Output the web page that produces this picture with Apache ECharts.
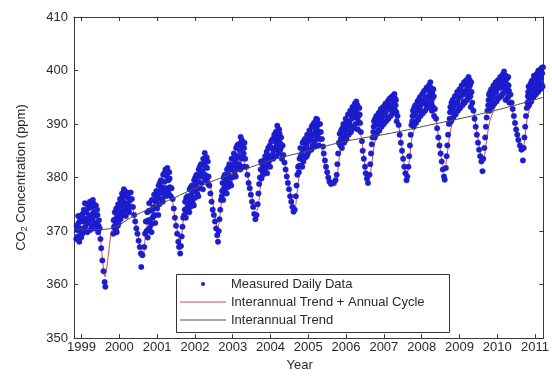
<!DOCTYPE html>
<html>
<head>
<meta charset="utf-8">
<script src="https://cdn.jsdelivr.net/npm/echarts@6/dist/echarts.min.js"></script>
<style>
  html, body { margin: 0; padding: 0; background: #fff; }
  #chart { width: 552px; height: 377px; }
</style>
</head>
<body>
<div id="chart"></div>
<script>
// Tick positions
const yearTicks = [1999, 2000, 2001, 2002, 2003, 2004, 2005, 2006, 2007, 2008, 2009, 2010, 2011];
const ppmTicks = [350, 360, 370, 380, 390, 400, 410];

// Measured daily CO2 [decimal year, ppm], grouped by seasonal cycle
const daily1999 = [[1998.86,368.5],[1998.87,371.0],[1998.88,370.2],[1998.9,369.0],[1998.91,372.8],[1998.92,371.5],[1998.94,368.0],[1998.95,370.0],[1998.96,372.0],[1998.98,370.5],[1998.99,368.8],[1999.0,373.0],[1999.02,369.5],[1999.03,373.2],[1999.04,371.8],[1999.05,370.2],[1999.06,374.0],[1999.08,372.3],[1999.09,375.2],[1999.1,370.8],[1999.11,371.8],[1999.12,373.5],[1999.14,375.0],[1999.15,369.8],[1999.16,371.5],[1999.18,374.2],[1999.19,372.0],[1999.2,372.8],[1999.22,375.5],[1999.23,370.2],[1999.24,373.0],[1999.25,374.8],[1999.26,371.0],[1999.28,374.5],[1999.29,372.0],[1999.3,375.8],[1999.32,373.5],[1999.33,375.0],[1999.34,370.5],[1999.36,372.8],[1999.37,371.5],[1999.38,374.8],[1999.4,371.2],[1999.41,374.0],[1999.42,373.0],[1999.44,369.8],[1999.45,371.0],[1999.46,372.0],[1999.48,370.5],[1999.5,368.5],[1999.52,366.8],[1999.55,364.5],[1999.58,362.5],[1999.61,360.5],[1999.63,359.6]];
const daily2000 = [[1999.84,369.5],[1999.85,372.0],[1999.86,370.8],[1999.87,370.6],[1999.88,373.5],[1999.89,372.2],[1999.9,371.2],[1999.91,370.2],[1999.92,374.2],[1999.93,369.8],[1999.94,373.2],[1999.95,372.8],[1999.96,371.0],[1999.97,375.0],[1999.98,371.5],[1999.99,374.8],[2000.0,373.8],[2000.01,372.5],[2000.02,376.0],[2000.03,372.2],[2000.04,375.8],[2000.05,374.8],[2000.06,373.2],[2000.07,377.0],[2000.08,373.0],[2000.09,376.5],[2000.1,375.5],[2000.11,374.0],[2000.12,377.8],[2000.13,374.2],[2000.14,377.5],[2000.15,376.4],[2000.16,375.2],[2000.17,372.8],[2000.18,375.0],[2000.19,373.8],[2000.2,377.2],[2000.21,376.8],[2000.22,374.0],[2000.23,375.0],[2000.24,376.2],[2000.26,373.5],[2000.27,374.5],[2000.28,375.8],[2000.3,377.2],[2000.33,376.0],[2000.36,374.5],[2000.39,373.0],[2000.42,371.8],[2000.45,370.5],[2000.48,369.5],[2000.51,368.2],[2000.54,367.0],[2000.57,365.8],[2000.58,363.3],[2000.61,365.5]];
const daily2001 = [[2000.66,367.0],[2000.68,369.5],[2000.7,371.8],[2000.72,370.0],[2000.73,371.8],[2000.74,373.5],[2000.75,368.8],[2000.76,370.2],[2000.77,372.0],[2000.78,373.8],[2000.79,375.2],[2000.8,370.5],[2000.81,372.0],[2000.82,373.8],[2000.84,371.2],[2000.85,369.8],[2000.86,375.8],[2000.87,374.0],[2000.88,372.5],[2000.9,374.5],[2000.91,372.8],[2000.92,376.8],[2000.94,373.0],[2000.95,371.5],[2000.96,375.5],[2000.98,377.5],[2000.99,376.0],[2001.0,374.2],[2001.02,376.5],[2001.03,373.0],[2001.04,378.5],[2001.06,375.0],[2001.07,379.0],[2001.08,377.2],[2001.1,379.5],[2001.11,377.8],[2001.12,376.0],[2001.14,378.2],[2001.15,375.5],[2001.16,380.5],[2001.18,377.0],[2001.19,380.8],[2001.2,379.2],[2001.22,381.5],[2001.23,376.5],[2001.24,378.0],[2001.26,380.2],[2001.27,381.8],[2001.28,377.5],[2001.3,379.5],[2001.31,376.8],[2001.32,381.0],[2001.33,379.8],[2001.34,378.2],[2001.36,376.5],[2001.38,378.0],[2001.41,376.0],[2001.44,374.2],[2001.47,372.5],[2001.5,371.0],[2001.53,369.5],[2001.56,368.0],[2001.58,367.0],[2001.61,365.8]];
const daily2002 = [[2001.63,367.2],[2001.65,369.0],[2001.67,370.8],[2001.69,372.5],[2001.72,373.0],[2001.73,374.0],[2001.74,375.5],[2001.76,372.5],[2001.77,376.2],[2001.78,374.2],[2001.8,376.5],[2001.81,375.0],[2001.82,373.8],[2001.84,375.8],[2001.85,373.5],[2001.86,377.8],[2001.88,374.5],[2001.89,378.2],[2001.9,376.8],[2001.92,378.5],[2001.93,376.0],[2001.94,375.2],[2001.96,377.5],[2001.97,374.8],[2001.98,379.5],[2002.0,376.2],[2002.01,380.0],[2002.02,378.5],[2002.04,380.5],[2002.05,378.0],[2002.06,377.0],[2002.08,379.2],[2002.09,376.5],[2002.1,381.5],[2002.12,378.0],[2002.13,382.0],[2002.14,380.2],[2002.16,382.5],[2002.17,380.8],[2002.18,379.0],[2002.2,381.2],[2002.21,377.8],[2002.22,383.5],[2002.24,380.0],[2002.25,382.8],[2002.26,384.6],[2002.27,380.5],[2002.28,382.0],[2002.3,379.5],[2002.31,383.8],[2002.32,381.8],[2002.34,383.0],[2002.35,378.8],[2002.36,380.2],[2002.38,378.5],[2002.41,377.0],[2002.44,375.5],[2002.47,374.0],[2002.5,373.0],[2002.53,371.8],[2002.56,370.5],[2002.59,369.2],[2002.61,368.0]];
const daily2003 = [[2002.63,370.0],[2002.65,372.2],[2002.67,374.0],[2002.69,375.8],[2002.71,376.5],[2002.72,377.5],[2002.73,379.0],[2002.75,375.8],[2002.76,380.0],[2002.77,378.0],[2002.79,380.5],[2002.8,378.8],[2002.81,377.2],[2002.83,379.5],[2002.84,377.0],[2002.85,381.5],[2002.87,378.2],[2002.88,381.8],[2002.89,380.5],[2002.91,382.5],[2002.92,380.0],[2002.93,379.0],[2002.95,381.5],[2002.96,378.5],[2002.97,383.5],[2002.99,380.0],[2003.0,383.5],[2003.01,382.2],[2003.03,384.5],[2003.04,382.5],[2003.05,381.0],[2003.07,383.2],[2003.08,380.2],[2003.09,385.5],[2003.11,381.8],[2003.12,386.0],[2003.13,384.0],[2003.15,386.2],[2003.16,384.0],[2003.17,382.5],[2003.19,385.0],[2003.2,381.5],[2003.21,387.6],[2003.22,386.5],[2003.23,383.5],[2003.24,387.0],[2003.25,385.8],[2003.26,383.8],[2003.27,382.0],[2003.29,384.5],[2003.3,385.5],[2003.31,386.5],[2003.33,383.5],[2003.36,382.0],[2003.39,380.5],[2003.42,379.0],[2003.45,378.0],[2003.48,376.8],[2003.51,375.5],[2003.54,374.5],[2003.57,373.2],[2003.6,372.2],[2003.63,373.0]];
const daily2004 = [[2003.66,375.0],[2003.68,377.0],[2003.7,378.8],[2003.72,380.0],[2003.74,381.5],[2003.75,383.0],[2003.76,379.8],[2003.78,382.5],[2003.79,381.2],[2003.8,380.5],[2003.82,383.2],[2003.83,382.0],[2003.84,381.0],[2003.86,384.0],[2003.87,383.2],[2003.88,381.8],[2003.9,384.8],[2003.91,380.8],[2003.92,382.5],[2003.94,385.5],[2003.95,384.0],[2003.96,383.0],[2003.98,386.0],[2003.99,382.0],[2004.0,383.8],[2004.02,386.8],[2004.03,385.5],[2004.04,384.2],[2004.06,387.2],[2004.07,383.5],[2004.08,385.0],[2004.1,388.0],[2004.11,386.8],[2004.12,385.5],[2004.14,388.5],[2004.15,384.0],[2004.16,386.0],[2004.17,387.5],[2004.18,389.7],[2004.19,388.8],[2004.2,386.8],[2004.21,385.0],[2004.22,384.5],[2004.23,389.0],[2004.24,388.2],[2004.25,386.5],[2004.26,385.2],[2004.28,387.5],[2004.29,385.8],[2004.3,383.5],[2004.32,386.0],[2004.34,384.2],[2004.37,382.8],[2004.4,381.5],[2004.43,380.2],[2004.46,379.0],[2004.49,377.8],[2004.52,376.5],[2004.55,375.5],[2004.58,374.5],[2004.61,373.6],[2004.64,374.0]];
const daily2005 = [[2004.67,376.5],[2004.69,378.5],[2004.71,380.5],[2004.73,382.0],[2004.75,381.0],[2004.76,382.2],[2004.77,383.5],[2004.79,385.5],[2004.8,384.0],[2004.81,382.2],[2004.83,384.5],[2004.84,382.0],[2004.85,386.5],[2004.87,383.0],[2004.88,386.8],[2004.89,385.2],[2004.91,387.2],[2004.92,385.5],[2004.93,383.8],[2004.95,386.0],[2004.96,384.0],[2004.97,388.0],[2004.99,384.5],[2005.0,388.0],[2005.01,386.8],[2005.03,388.8],[2005.04,387.0],[2005.05,385.2],[2005.07,387.5],[2005.08,385.2],[2005.09,389.5],[2005.11,386.0],[2005.12,389.8],[2005.13,388.2],[2005.15,390.2],[2005.16,388.0],[2005.17,386.8],[2005.18,385.8],[2005.19,389.0],[2005.2,390.5],[2005.21,391.0],[2005.22,389.2],[2005.23,387.5],[2005.24,390.8],[2005.25,389.8],[2005.26,388.2],[2005.27,386.0],[2005.29,388.5],[2005.3,387.2],[2005.31,390.0],[2005.33,388.5],[2005.36,387.2],[2005.39,385.8],[2005.41,384.5],[2005.44,383.2],[2005.47,382.0],[2005.5,381.0],[2005.53,380.0],[2005.56,379.2],[2005.6,378.8],[2005.66,379.0],[2005.72,379.5]];
const daily2006 = [[2005.75,380.5],[2005.77,382.5],[2005.79,384.5],[2005.81,386.5],[2005.83,388.2],[2005.85,386.0],[2005.86,387.2],[2005.87,388.8],[2005.89,385.5],[2005.9,389.2],[2005.91,387.8],[2005.93,390.0],[2005.94,388.0],[2005.95,386.5],[2005.97,388.8],[2005.98,387.0],[2005.99,391.0],[2006.01,387.2],[2006.02,390.5],[2006.03,389.5],[2006.05,391.8],[2006.06,389.5],[2006.07,388.0],[2006.09,390.2],[2006.1,388.5],[2006.11,392.5],[2006.13,388.5],[2006.14,392.0],[2006.15,391.0],[2006.17,393.2],[2006.18,391.2],[2006.19,389.5],[2006.2,392.8],[2006.21,391.8],[2006.22,389.2],[2006.23,393.8],[2006.24,392.5],[2006.25,390.0],[2006.26,393.5],[2006.27,394.2],[2006.28,391.2],[2006.29,392.0],[2006.3,393.5],[2006.31,389.0],[2006.32,390.5],[2006.33,391.5],[2006.35,393.0],[2006.36,391.8],[2006.37,390.2],[2006.39,388.5],[2006.42,386.8],[2006.44,385.0],[2006.47,383.5],[2006.5,382.0],[2006.52,380.8],[2006.55,379.8],[2006.58,379.0]];
const daily2007 = [[2006.62,380.5],[2006.64,382.5],[2006.66,384.5],[2006.68,386.2],[2006.7,387.5],[2006.72,388.5],[2006.73,389.5],[2006.74,390.5],[2006.76,387.5],[2006.77,391.0],[2006.78,389.8],[2006.8,391.5],[2006.81,389.8],[2006.82,388.2],[2006.84,390.2],[2006.85,388.8],[2006.86,392.0],[2006.88,388.8],[2006.89,392.2],[2006.9,391.0],[2006.92,392.8],[2006.93,390.8],[2006.94,389.5],[2006.96,391.5],[2006.97,390.0],[2006.98,393.2],[2007.0,390.0],[2007.01,393.2],[2007.02,392.2],[2007.04,393.8],[2007.05,392.2],[2007.06,390.5],[2007.08,392.8],[2007.09,391.2],[2007.1,394.2],[2007.12,391.0],[2007.13,394.5],[2007.14,393.2],[2007.16,394.8],[2007.17,393.2],[2007.18,391.5],[2007.2,393.5],[2007.21,392.5],[2007.22,395.2],[2007.23,394.5],[2007.24,392.0],[2007.25,395.0],[2007.26,394.2],[2007.27,393.0],[2007.28,395.6],[2007.29,394.8],[2007.3,392.5],[2007.31,393.5],[2007.32,394.5],[2007.33,392.2],[2007.34,390.5],[2007.36,391.5],[2007.39,389.8],[2007.42,388.0],[2007.45,386.5],[2007.48,385.0],[2007.51,383.5],[2007.54,382.0],[2007.57,380.8],[2007.6,379.5],[2007.62,380.2]];
const daily2008 = [[2007.65,382.0],[2007.67,384.0],[2007.69,386.0],[2007.71,388.0],[2007.73,389.8],[2007.75,390.5],[2007.76,391.5],[2007.77,392.5],[2007.79,389.5],[2007.8,393.0],[2007.81,391.8],[2007.83,393.5],[2007.84,391.8],[2007.85,390.2],[2007.87,392.5],[2007.88,390.8],[2007.89,394.2],[2007.91,390.8],[2007.92,394.5],[2007.93,393.0],[2007.95,395.0],[2007.96,393.2],[2007.97,391.5],[2007.99,393.8],[2008.0,392.2],[2008.01,395.5],[2008.03,392.0],[2008.04,395.8],[2008.05,394.2],[2008.07,396.2],[2008.08,394.5],[2008.09,392.5],[2008.11,394.8],[2008.12,393.5],[2008.13,396.8],[2008.15,393.0],[2008.16,396.8],[2008.17,395.2],[2008.18,394.0],[2008.19,397.2],[2008.2,396.2],[2008.21,393.5],[2008.22,395.0],[2008.23,397.8],[2008.24,396.8],[2008.25,395.5],[2008.26,394.0],[2008.27,392.5],[2008.28,396.0],[2008.29,394.8],[2008.3,393.2],[2008.31,396.5],[2008.32,395.2],[2008.33,391.5],[2008.35,392.8],[2008.38,391.0],[2008.41,389.2],[2008.44,387.5],[2008.47,386.0],[2008.5,384.5],[2008.53,383.0],[2008.56,381.5],[2008.59,380.2],[2008.61,379.6]];
const daily2009 = [[2008.64,381.8],[2008.66,384.0],[2008.68,386.0],[2008.7,388.0],[2008.72,390.0],[2008.74,391.0],[2008.75,392.2],[2008.76,393.2],[2008.78,390.5],[2008.79,394.0],[2008.8,392.5],[2008.82,394.5],[2008.83,392.8],[2008.84,391.2],[2008.86,393.5],[2008.87,391.8],[2008.88,395.2],[2008.9,391.8],[2008.91,395.2],[2008.92,394.0],[2008.94,396.0],[2008.95,394.0],[2008.96,392.5],[2008.98,394.8],[2008.99,393.0],[2009.0,396.5],[2009.02,393.0],[2009.03,396.5],[2009.04,395.2],[2009.06,397.2],[2009.07,395.5],[2009.08,393.5],[2009.1,395.8],[2009.11,394.2],[2009.12,397.8],[2009.14,394.0],[2009.15,397.5],[2009.16,396.2],[2009.17,395.5],[2009.18,398.2],[2009.19,397.2],[2009.2,394.5],[2009.21,396.0],[2009.22,396.8],[2009.23,397.8],[2009.24,398.8],[2009.25,396.5],[2009.26,395.0],[2009.27,398.2],[2009.28,397.2],[2009.29,395.2],[2009.3,393.2],[2009.31,397.8],[2009.32,396.0],[2009.34,394.0],[2009.37,392.5],[2009.4,391.0],[2009.43,389.5],[2009.46,388.0],[2009.49,386.5],[2009.52,385.2],[2009.55,384.0],[2009.58,383.0],[2009.61,381.2],[2009.63,383.5]];
const daily2010 = [[2009.66,385.5],[2009.68,387.5],[2009.7,389.5],[2009.72,391.2],[2009.74,392.5],[2009.76,393.5],[2009.77,394.5],[2009.78,395.5],[2009.8,392.5],[2009.81,396.0],[2009.82,394.5],[2009.84,396.5],[2009.85,394.8],[2009.86,393.2],[2009.88,395.2],[2009.89,393.8],[2009.9,397.2],[2009.92,393.8],[2009.93,397.0],[2009.94,396.0],[2009.96,397.8],[2009.97,395.8],[2009.98,394.2],[2010.0,396.5],[2010.01,394.8],[2010.02,398.2],[2010.04,394.8],[2010.05,398.0],[2010.06,397.0],[2010.08,398.8],[2010.09,396.8],[2010.1,395.2],[2010.12,397.5],[2010.13,395.5],[2010.14,399.2],[2010.15,398.5],[2010.16,395.8],[2010.17,397.2],[2010.18,399.8],[2010.19,398.8],[2010.2,397.8],[2010.21,396.2],[2010.22,394.5],[2010.23,399.0],[2010.24,396.8],[2010.25,397.5],[2010.26,398.5],[2010.27,396.0],[2010.28,395.0],[2010.29,398.8],[2010.3,397.2],[2010.31,396.2],[2010.32,394.0],[2010.35,395.5],[2010.38,394.0],[2010.41,392.8],[2010.44,391.5],[2010.47,390.2],[2010.5,389.0],[2010.53,388.0],[2010.56,387.0],[2010.6,386.0],[2010.64,385.2],[2010.68,383.2],[2010.7,385.5]];
const daily2011 = [[2010.72,387.5],[2010.74,389.5],[2010.76,391.5],[2010.78,393.0],[2010.8,394.0],[2010.81,395.2],[2010.82,396.0],[2010.83,397.0],[2010.84,393.5],[2010.85,394.5],[2010.86,395.5],[2010.87,396.5],[2010.88,397.5],[2010.89,395.2],[2010.9,394.2],[2010.91,398.0],[2010.92,396.5],[2010.93,395.0],[2010.94,398.2],[2010.95,397.0],[2010.96,395.0],[2010.97,399.0],[2010.98,397.2],[2010.99,396.0],[2011.0,398.8],[2011.01,397.8],[2011.02,395.5],[2011.03,399.2],[2011.04,397.8],[2011.05,396.5],[2011.06,399.5],[2011.07,398.5],[2011.08,396.0],[2011.09,400.0],[2011.1,398.2],[2011.11,397.0],[2011.12,399.8],[2011.13,399.0],[2011.14,396.5],[2011.15,400.2],[2011.16,398.5],[2011.17,397.5],[2011.18,400.5],[2011.19,399.5],[2011.2,397.0],[2011.21,400.6]];

// Fitted curve: interannual trend plus annual cycle [decimal year, ppm]
const cycleCurve = [[1998.86,370.5],[1999.0,371.5],[1999.2,373.0],[1999.4,372.5],[1999.48,370.0],[1999.55,365.0],[1999.62,361.5],[1999.7,365.0],[1999.78,369.5],[1999.85,371.0],[2000.0,373.0],[2000.2,375.5],[2000.3,375.5],[2000.4,372.5],[2000.5,369.0],[2000.6,365.5],[2000.63,365.0],[2000.68,368.5],[2000.75,371.5],[2000.9,373.5],[2001.1,376.5],[2001.25,378.5],[2001.36,377.5],[2001.45,373.5],[2001.55,369.5],[2001.6,368.0],[2001.65,369.5],[2001.72,373.0],[2001.9,376.0],[2002.1,379.0],[2002.25,381.0],[2002.37,380.0],[2002.45,376.5],[2002.55,372.0],[2002.6,370.5],[2002.65,372.0],[2002.72,376.0],[2002.9,379.0],[2003.1,382.5],[2003.22,384.0],[2003.32,382.5],[2003.45,378.5],[2003.58,374.5],[2003.64,373.8],[2003.7,376.0],[2003.76,379.5],[2003.9,381.5],[2004.1,384.5],[2004.2,386.0],[2004.32,384.5],[2004.45,380.0],[2004.58,375.5],[2004.65,374.5],[2004.7,377.0],[2004.78,381.0],[2004.95,384.0],[2005.1,386.0],[2005.22,387.5],[2005.32,386.5],[2005.42,383.0],[2005.52,379.5],[2005.58,378.5],[2005.72,378.5],[2005.78,381.0],[2005.85,385.0],[2006.0,387.5],[2006.15,389.5],[2006.27,390.5],[2006.38,388.5],[2006.47,384.0],[2006.55,380.0],[2006.6,379.5],[2006.67,382.0],[2006.76,386.5],[2006.95,389.5],[2007.15,391.5],[2007.27,392.5],[2007.37,390.5],[2007.47,386.0],[2007.56,381.5],[2007.61,380.5],[2007.67,383.0],[2007.76,388.0],[2007.95,391.0],[2008.12,393.0],[2008.25,394.0],[2008.35,392.0],[2008.45,387.5],[2008.55,382.5],[2008.61,381.5],[2008.67,384.0],[2008.77,389.0],[2008.95,392.5],[2009.12,394.5],[2009.25,395.5],[2009.35,393.5],[2009.45,389.0],[2009.56,384.5],[2009.63,383.5],[2009.7,386.0],[2009.8,390.5],[2009.97,393.5],[2010.12,395.5],[2010.25,396.5],[2010.35,394.5],[2010.47,390.0],[2010.6,386.5],[2010.68,385.5],[2010.74,388.0],[2010.82,392.0],[2010.97,394.5],[2011.1,396.5],[2011.2,397.0]];

// Interannual trend [decimal year, ppm]
const trendCurve = [[1998.8,370.4],[1999.5,370.3],[1999.9,370.8],[2000.3,372.5],[2000.9,374.5],[2001.45,376.2],[2002.0,378.0],[2002.9,380.5],[2003.5,382.0],[2004.0,383.2],[2005.0,385.0],[2006.0,386.8],[2007.2,388.3],[2008.2,389.8],[2009.2,391.3],[2010.2,393.0],[2011.22,395.0]];

const dailyAll = [].concat(daily1999, daily2000, daily2001, daily2002, daily2003, daily2004,
  daily2005, daily2006, daily2007, daily2008, daily2009, daily2010, daily2011);

const FONT = 'Liberation Sans, Arial, Helvetica, sans-serif';
const AXIS_COLOR = '#3a3a3a';
const TEXT_COLOR = '#2a2a2a';
const DOT_COLOR = '#1c1cdc';
const DOT_EDGE = '#1c1c96';
const CYCLE_COLOR = '#cc4a4a';
const TREND_COLOR = '#4e4e48';
// thin horizontal bar used as the legend sample for the two curves
const LINE_ICON = 'path://M0,0L46,0L46,1L0,1Z';

const xBase = {
  type: 'value', min: 1998.8, max: 2011.22,
  splitLine: { show: false },
  axisLine: { show: true, onZero: false, lineStyle: { color: AXIS_COLOR, width: 1 } },
  axisTick: { show: true, inside: true, length: 4, customValues: yearTicks, lineStyle: { color: AXIS_COLOR } }
};
const yBase = {
  type: 'value', min: ppmTicks[0], max: ppmTicks[ppmTicks.length - 1], interval: 10,
  splitLine: { show: false },
  axisLine: { show: true, onZero: false, lineStyle: { color: AXIS_COLOR, width: 1 } },
  axisTick: { show: true, inside: true, length: 4, lineStyle: { color: AXIS_COLOR } }
};

const chart = echarts.init(document.getElementById('chart'), null, { renderer: 'canvas' });
chart.setOption({
  animation: false,
  backgroundColor: '#fff',
  textStyle: { fontFamily: FONT },
  grid: { left: 74, right: 2, top: 17, bottom: 33, containLabel: false },
  xAxis: [
    Object.assign({}, xBase, {
      position: 'bottom',
      name: 'Year', nameLocation: 'middle', nameGap: 17,
      nameTextStyle: { fontSize: 13, color: TEXT_COLOR, fontFamily: FONT, padding: [0, 18, 0, 0] },
      axisLabel: { show: true, margin: 3, fontSize: 13, color: TEXT_COLOR, fontFamily: FONT,
        customValues: yearTicks, formatter: v => String(Math.round(v)) }
    }),
    Object.assign({}, xBase, { position: 'top', axisLabel: { show: false } })
  ],
  yAxis: [
    Object.assign({}, yBase, {
      position: 'left',
      name: 'CO{sub|2} Concentration (ppm)', nameLocation: 'middle', nameGap: 45,
      nameTextStyle: { fontSize: 13, color: TEXT_COLOR, fontFamily: FONT,
        rich: { sub: { fontSize: 9, color: TEXT_COLOR, fontFamily: FONT, verticalAlign: 'bottom', padding: [6, 0, 0, 0] } } },
      axisLabel: { show: true, margin: 6, fontSize: 13, color: TEXT_COLOR, fontFamily: FONT,
        formatter: v => String(v) }
    }),
    Object.assign({}, yBase, { position: 'right', axisLabel: { show: false } })
  ],
  legend: {
    orient: 'vertical', left: 180, top: 277, padding: 0,
    itemWidth: 46, itemHeight: 4, itemGap: 4,
    textStyle: { fontSize: 13, color: TEXT_COLOR, fontFamily: FONT, lineHeight: 14 },
    z: 20,
    data: [
      { name: 'Measured Daily Data', icon: 'circle', itemStyle: { borderWidth: 0, color: '#2020a8' } },
      { name: 'Interannual Trend + Annual Cycle', icon: LINE_ICON },
      { name: 'Interannual Trend', icon: LINE_ICON }
    ]
  },
  graphic: [{
    type: 'rect', z: 10,
    shape: { x: 176.5, y: 274.5, width: 273, height: 58 },
    style: { fill: '#fff', stroke: '#333', lineWidth: 1 }
  }],
  series: [
    {
      name: 'Interannual Trend + Annual Cycle', type: 'line', data: cycleCurve,
      xAxisIndex: 0, yAxisIndex: 0,
      symbol: 'none', smooth: 0.3,
      lineStyle: { color: CYCLE_COLOR, width: 1 },
      itemStyle: { color: CYCLE_COLOR },
      z: 2
    },
    {
      name: 'Measured Daily Data', type: 'scatter', data: dailyAll,
      xAxisIndex: 0, yAxisIndex: 0,
      symbol: 'circle', symbolSize: 5.5,
      itemStyle: { color: DOT_COLOR, opacity: 1, borderColor: DOT_EDGE, borderWidth: 0.4 },
      z: 3
    },
    {
      name: 'Interannual Trend', type: 'line', data: trendCurve,
      xAxisIndex: 0, yAxisIndex: 0,
      symbol: 'none', smooth: 0.4,
      lineStyle: { color: TREND_COLOR, width: 1 },
      itemStyle: { color: TREND_COLOR },
      z: 4
    }
  ]
});
</script>
</body>
</html>
